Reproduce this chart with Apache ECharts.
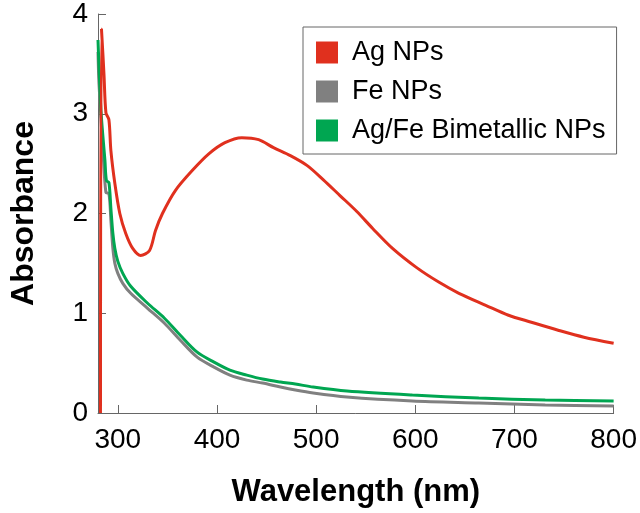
<!DOCTYPE html>
<html>
<head>
<meta charset="utf-8">
<script src="https://cdn.jsdelivr.net/npm/echarts@6/dist/echarts.min.js"></script>
<style>
html,body{margin:0;padding:0;background:#fff;}
#chart{width:640px;height:513px;}
</style>
</head>
<body>
<div id="chart"></div>
<script>
var seriesNames = ['Ag NPs', 'Fe NPs', 'Ag/Fe Bimetallic NPs'];
var seriesColors = ['#e0301e', '#808080', '#00a651'];

var agX = [282.5, 283.5, 286, 288, 291, 293, 297, 302, 308, 315, 323, 332, 338, 345, 358, 375, 392, 408, 425, 442, 457, 474, 491, 507, 524, 541, 557, 577, 601, 624, 644, 671, 694, 717, 744, 770, 800];
var agY = [0, 3.85, 3.40, 3.01, 2.94, 2.63, 2.30, 2.0, 1.80, 1.65, 1.58, 1.63, 1.83, 2.0, 2.23, 2.43, 2.60, 2.71, 2.76, 2.74, 2.66, 2.58, 2.48, 2.34, 2.18, 2.02, 1.85, 1.65, 1.46, 1.31, 1.20, 1.08, 0.98, 0.91, 0.83, 0.76, 0.70];

var feX = [280, 281, 285, 288, 291, 293, 295, 297, 300, 305, 313, 330, 347, 363, 380, 397, 413, 430, 446, 464, 479, 497, 531, 597, 664, 731, 800];
var feY = [3.62, 3.30, 2.63, 2.21, 2.20, 1.93, 1.65, 1.50, 1.40, 1.30, 1.20, 1.05, 0.90, 0.73, 0.56, 0.46, 0.38, 0.33, 0.30, 0.26, 0.23, 0.20, 0.16, 0.12, 0.10, 0.08, 0.07];

var bmX = [280, 283, 287, 288.5, 291, 293, 295, 297, 300, 305, 313, 330, 347, 363, 380, 397, 413, 430, 446, 464, 479, 497, 531, 597, 664, 731, 800];
var bmY = [3.74, 3.03, 2.53, 2.33, 2.31, 2.05, 1.80, 1.65, 1.52, 1.40, 1.27, 1.10, 0.95, 0.78, 0.61, 0.51, 0.43, 0.38, 0.34, 0.31, 0.29, 0.26, 0.22, 0.18, 0.15, 0.13, 0.12];

var xMin = 280, xMax = 800;
var yMin = 0, yMax = 4, yStep = 1;

function pairs(xs, ys) { return xs.map(function (x, i) { return [x, ys[i]]; }); }

var FONT = '"Liberation Sans", Arial, sans-serif';
var chart = echarts.init(document.getElementById('chart'), null, {renderer: 'canvas'});

function mkSeries(i, xs, ys, z) {
  return {
    name: seriesNames[i], type: 'line', data: pairs(xs, ys),
    showSymbol: false, symbol: 'none', smooth: 0.3, z: z,
    lineStyle: {color: seriesColors[i], width: 3},
    itemStyle: {color: seriesColors[i]}
  };
}

chart.setOption({
  animation: false,
  backgroundColor: '#fff',
  grid: {left: 94, right: 24, top: 13, bottom: 100},
  legend: {
    orient: 'vertical', left: 303, top: 27,
    padding: [12, 11, 10, 13],
    borderColor: '#666', borderWidth: 1,
    itemWidth: 22, itemHeight: 22, itemGap: 12,
    icon: 'rect',
    textStyle: {fontFamily: FONT, fontSize: 27, color: '#000', lineHeight: 24, padding: [0, 0, 0, 9]},
    data: seriesNames
  },
  xAxis: {
    type: 'value', min: xMin, max: xMax, splitNumber: 5,
    name: 'Wavelength (nm)', nameLocation: 'middle', nameGap: 64,
    nameTextStyle: {fontFamily: FONT, fontSize: 31, fontWeight: 'bold', color: '#000'},
    axisLine: {show: true, lineStyle: {color: '#666', width: 1}},
    axisTick: {show: true, inside: true, length: 8, lineStyle: {color: '#666'}},
    axisLabel: {fontFamily: FONT, fontSize: 28, color: '#000', margin: 13, showMinLabel: false},
    splitLine: {show: false}
  },
  yAxis: {
    type: 'value', min: yMin, max: yMax, interval: yStep,
    name: 'Absorbance', nameLocation: 'middle', nameGap: 58,
    nameTextStyle: {fontFamily: FONT, fontSize: 32, fontWeight: 'bold', color: '#000'},
    axisLine: {show: true, lineStyle: {color: '#666', width: 1}},
    axisTick: {show: true, inside: true, length: 8, lineStyle: {color: '#666'}},
    axisLabel: {fontFamily: FONT, fontSize: 28, color: '#000', margin: 10},
    splitLine: {show: false}
  },
  series: [
    mkSeries(1, feX, feY, 2),
    mkSeries(2, bmX, bmY, 3),
    mkSeries(0, agX, agY, 4)
  ]
});
</script>
</body>
</html>
